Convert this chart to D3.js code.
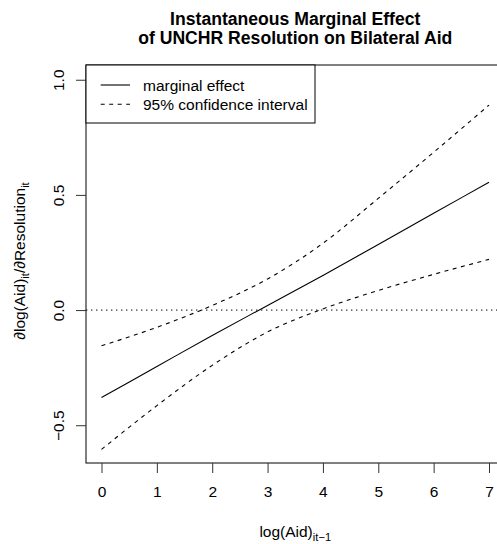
<!DOCTYPE html>
<html>
<head>
<meta charset="utf-8">
<script src="https://cdn.jsdelivr.net/npm/d3@7"></script>
<style>
  html, body { margin: 0; padding: 0; background: #fff; overflow: hidden; }
  svg { display: block; font-family: "Liberation Sans", Arial, Helvetica, sans-serif; }
</style>
</head>
<body>
<svg id="chart" width="497" height="544"></svg>
<script>
// ---- data ----
const xValues   = [0, 1, 2, 3, 4, 5, 6, 7];
const marginal  = [-0.38, -0.245, -0.11, 0.02, 0.15, 0.285, 0.42, 0.555];
const upperCI   = [-0.155, -0.075, 0.02, 0.135, 0.29, 0.485, 0.685, 0.89];
const lowerCI   = [-0.605, -0.415, -0.24, -0.095, 0.005, 0.085, 0.155, 0.22];
const xTicks    = [0, 1, 2, 3, 4, 5, 6, 7];
const yTicks    = [-0.5, 0.0, 0.5, 1.0];
const yTickLabels = ["\u22120.5", "0.0", "0.5", "1.0"];
const legendLabels = ["marginal effect", "95% confidence interval"];
const titleLines = ["Instantaneous Marginal Effect", "of UNCHR Resolution on Bilateral Aid"];

// ---- layout ----
const svg = d3.select("#chart");
const pL = 86, pR = 504.5, pT = 65, pB = 463;
const fs = 15.5;

const x = d3.scaleLinear().domain([-0.28, 7.28]).range([pL, pR]);
const y = d3.scaleLinear().domain([-0.664, 1.064]).range([pB, pT]);

// clip
svg.append("defs").append("clipPath").attr("id", "plotclip")
  .append("rect").attr("x", pL).attr("y", pT).attr("width", pR - pL).attr("height", pB - pT);

const plot = svg.append("g").attr("clip-path", "url(#plotclip)");

// zero reference line
plot.append("line")
  .attr("x1", pL).attr("x2", pR)
  .attr("y1", y(0)).attr("y2", y(0))
  .attr("stroke", "#000").attr("stroke-width", 1)
  .attr("stroke-dasharray", "1.4,3.6");

const line = (vals) => d3.line()
  .x((d, i) => x(xValues[i]))
  .y(d => y(d))
  .curve(d3.curveMonotoneX)(vals);

plot.append("path").attr("d", line(marginal))
  .attr("fill", "none").attr("stroke", "#000").attr("stroke-width", 1.1);
plot.append("path").attr("d", line(upperCI))
  .attr("fill", "none").attr("stroke", "#000").attr("stroke-width", 1.1)
  .attr("stroke-dasharray", "4,4.5");
plot.append("path").attr("d", line(lowerCI))
  .attr("fill", "none").attr("stroke", "#000").attr("stroke-width", 1.1)
  .attr("stroke-dasharray", "4,4.5");

// box
svg.append("rect")
  .attr("x", pL).attr("y", pT)
  .attr("width", pR - pL).attr("height", pB - pT)
  .attr("fill", "none").attr("stroke", "#000").attr("stroke-width", 1);

// x axis
const xAxis = d3.axisBottom(x).tickValues(xTicks).tickSize(10).tickPadding(13)
  .tickFormat(d3.format("d"));
const gx = svg.append("g").attr("transform", `translate(0,${pB})`).call(xAxis);
gx.select(".domain").remove();
gx.selectAll(".tick line").attr("stroke", "#333");
gx.selectAll("text").attr("font-size", fs).attr("fill", "#000")
  .attr("font-family", "Liberation Sans, Arial, sans-serif");

// y axis
const yAxis = d3.axisLeft(y).tickValues(yTicks).tickSize(10)
  .tickFormat((d, i) => yTickLabels[i]);
const gy = svg.append("g").attr("transform", `translate(${pL},0)`).call(yAxis);
gy.select(".domain").remove();
gy.selectAll(".tick line").attr("stroke", "#333");
gy.selectAll("text")
  .attr("font-size", fs).attr("fill", "#000")
  .attr("font-family", "Liberation Sans, Arial, sans-serif")
  .attr("x", 0).attr("dy", 0)
  .attr("text-anchor", "middle")
  .attr("transform", "translate(-22.5,0) rotate(-90)");

// title (two separate lines)
const titleY = [24.5, 44];
titleLines.forEach((t, i) => {
  svg.append("text").attr("text-anchor", "middle")
    .attr("font-weight", "bold").attr("font-size", 17.6)
    .attr("x", (pL + pR) / 2).attr("y", titleY[i]).text(t);
});

// x label
const xl = svg.append("text").attr("text-anchor", "middle")
  .attr("x", (pL + pR) / 2).attr("y", 537).attr("font-size", fs);
xl.append("tspan").text("log(Aid)");
xl.append("tspan").attr("font-size", fs * 0.72).attr("dy", 4).text("it\u22121");

// y label
const yl = svg.append("text").attr("text-anchor", "middle")
  .attr("transform", `translate(25,${(pT + pB) / 2 - 3}) rotate(-90)`)
  .attr("font-size", fs);
yl.append("tspan").text("\u2202log(Aid)");
yl.append("tspan").attr("font-size", fs * 0.72).attr("dy", 4).text("it");
yl.append("tspan").attr("dy", -4).text("/\u2202Resolution");
yl.append("tspan").attr("font-size", fs * 0.72).attr("dy", 4).text("it");

// legend
const lg = svg.append("g");
lg.append("rect").attr("x", pL).attr("y", pT).attr("width", 229).attr("height", 58)
  .attr("fill", "#fff").attr("stroke", "#000").attr("stroke-width", 1);
const legY = [85, 104.3];
const legDash = [null, "4,4.5"];
legendLabels.forEach((lab, i) => {
  const l = lg.append("line").attr("x1", 100.7).attr("x2", 130)
    .attr("y1", legY[i]).attr("y2", legY[i])
    .attr("stroke", "#000").attr("stroke-width", 1.1);
  if (legDash[i]) l.attr("stroke-dasharray", legDash[i]);
  lg.append("text").attr("x", 143).attr("y", legY[i] + 5.5)
    .attr("font-size", fs).text(lab);
});
</script>
</body>
</html>
